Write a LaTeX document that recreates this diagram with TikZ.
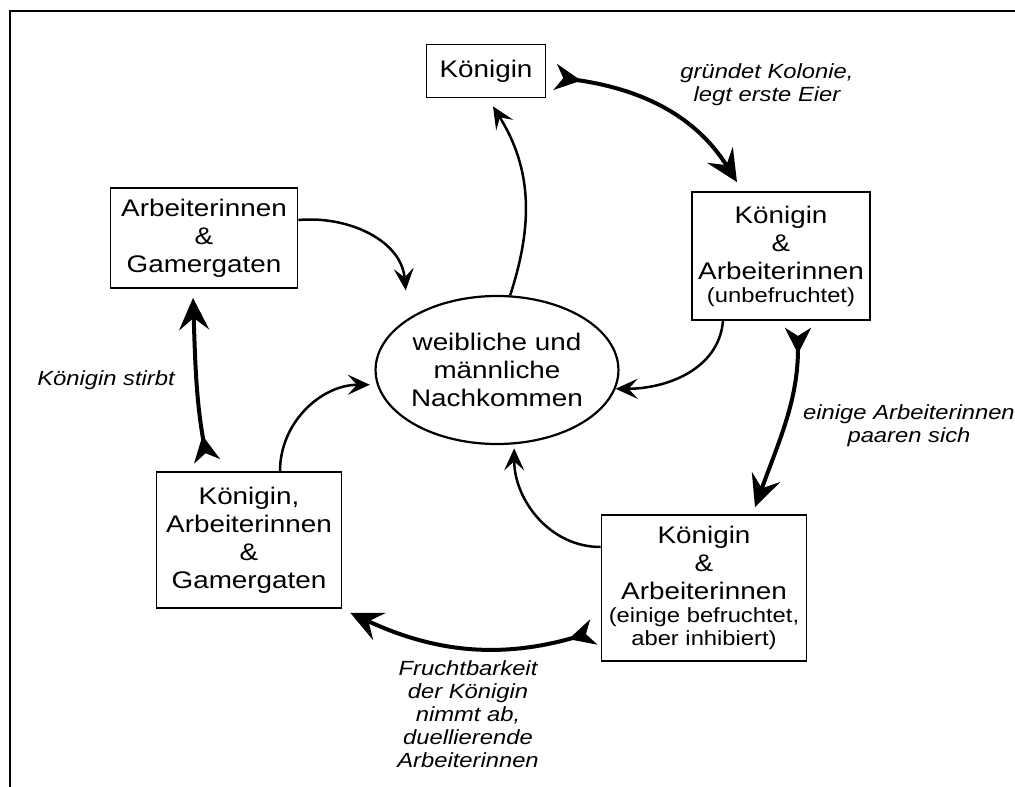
\documentclass[tikz,border=0pt]{standalone}
\usepackage{fontspec}
\setmainfont[FakeStretch=1.16]{Liberation Sans}
\usetikzlibrary{arrows.meta, shapes.geometric}

\newcommand{\klein}{\fontsize{20.5}{23}\selectfont}

\tikzset{
  box/.style={draw, line width=1.8pt, align=center, inner sep=0pt,
    font=\fontsize{24}{28}\selectfont},
  bigarrow/.style={line width=4pt,
    {Stealth[reversed,length=26pt,width=26pt,inset=8pt]}-{Stealth[length=32pt,width=30pt,inset=12pt]}},
  smallarrow/.style={line width=2.5pt, -{Stealth[length=22pt,width=20pt,inset=9pt]}},
  lab/.style={align=center, font=\fontsize{20.5}{23}\selectfont\itshape}
}

\begin{document}
\begin{tikzpicture}[x=1pt,y=-1pt]
\useasboundingbox (0,0) rectangle (1015,787);
\draw[line width=2pt] (10,11) rectangle (1100,900);

\node[box, minimum width=119, minimum height=53] (koenigin) at (486,71) {Königin};
\node[box, minimum width=187, minimum height=100] (ag) at (204,238) {Arbeiterinnen\\\&\\Gamergaten};
\node[box, minimum width=178, minimum height=128] (ka) at (781,256)
  {Königin\\\&\\Arbeiterinnen\\[-5pt]\klein (unbefruchtet)};
\node[ellipse, draw, line width=2.2pt, minimum width=230, minimum height=148, inner sep=0pt,
  align=center, font=\fontsize{24}{28}\selectfont] (nach) at (497,370)
  {weibliche und\\männliche\\Nachkommen};
\node[box, minimum width=185, minimum height=136] (kag) at (249,540)
  {Königin,\\Arbeiterinnen\\\&\\Gamergaten};
\node[box, minimum width=205, minimum height=146] (kab) at (704,588)
  {Königin\\\&\\Arbeiterinnen\\[-5pt]\klein (einige befruchtet,\\[-5pt]\klein aber inhibiert)};

% labels
\node[lab] (l1) at (767,85) {gründet Kolonie,\\legt erste Eier};
\node[lab] (l2) at (909,426) {einige Arbeiterinnen\\paaren sich};
\node[lab] (l3) at (106,380) {Königin stirbt};
\node[lab] (l4) at (468,714) {Fruchtbarkeit\\der Königin\\nimmt ab,\\duellierende\\Arbeiterinnen};

% cycle
\draw[bigarrow] ([xshift=9pt,yshift=-6pt]koenigin.east) to[out=-8,in=122] ([xshift=-44pt,yshift=9pt]ka.north);
\draw[bigarrow] ([xshift=17pt,yshift=-7pt]ka.south) to[out=-90,in=70] ([xshift=51pt,yshift=7pt]kab.north);
\draw[bigarrow] ([xshift=-7pt,yshift=-44pt]kab.west) to[out=196,in=-25] ([xshift=8pt,yshift=-4pt]kag.south east);
\draw[bigarrow] ([xshift=-42pt,yshift=10pt]kag.north) to[out=100,in=-88] ([xshift=-11pt,yshift=-9pt]ag.south);

% offspring
\draw[smallarrow] (nach.80) to[out=72,in=-58] ([xshift=7pt,yshift=-8pt]koenigin.south);
\draw[smallarrow] ([yshift=18pt]ag.east) to[out=5,in=95] ([xshift=-19pt,yshift=19pt]nach.140);
\draw[smallarrow] ([xshift=-58pt]ka.south) to[out=-95,in=0] (nach.-9);
\draw[smallarrow] ([yshift=41pt]kab.west) to[out=180,in=-90] ([yshift=-4pt]nach.-77);
\draw[smallarrow] ([xshift=31pt]kag.north) to[out=90,in=180] ([xshift=-7pt]nach.187);
\end{tikzpicture}
\end{document}
